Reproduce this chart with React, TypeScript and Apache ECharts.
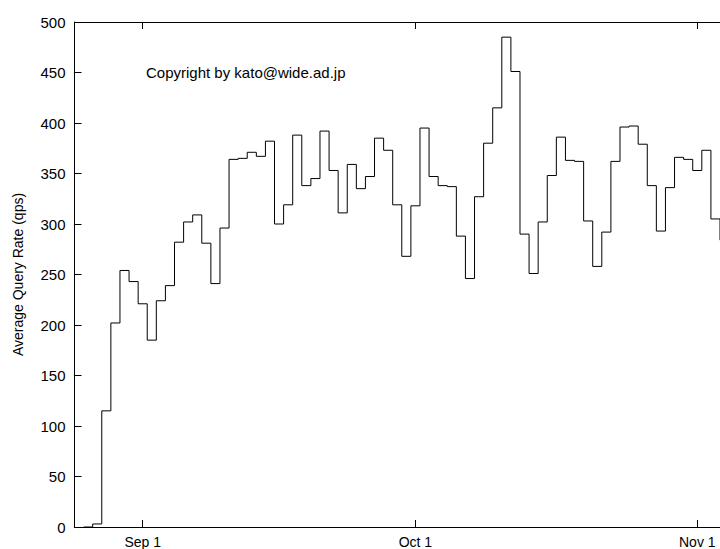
import React, { useEffect, useRef } from "react";
import * as echarts from "echarts";

// Day offsets relative to Sep 1 (each sample holds for one day, gnuplot "steps")
const dayOffsets: number[] = [
  -6.5, -5.5, -4.5, -3.5, -2.5, -1.5, -0.5, 0.5, 1.5, 2.5,
  3.5, 4.5, 5.5, 6.5, 7.5, 8.5, 9.5, 10.5, 11.5, 12.5,
  13.5, 14.5, 15.5, 16.5, 17.5, 18.5, 19.5, 20.5, 21.5, 22.5,
  23.5, 24.5, 25.5, 26.5, 27.5, 28.5, 29.5, 30.5, 31.5, 32.5,
  33.5, 34.5, 35.5, 36.5, 37.5, 38.5, 39.5, 40.5, 41.5, 42.5,
  43.5, 44.5, 45.5, 46.5, 47.5, 48.5, 49.5, 50.5, 51.5, 52.5,
  53.5, 54.5, 55.5, 56.5, 57.5, 58.5, 59.5, 60.5, 61.5, 62.5,
  63.5,
];

// Average query rate (qps)
const queryRates: number[] = [
  0, 3, 115, 202, 254, 243, 221, 185, 224, 239,
  282, 302, 309, 281, 241, 296, 364, 365, 371, 367,
  382, 300, 319, 388, 338, 345, 392, 353, 311, 359,
  335, 347, 385, 373, 319, 268, 318, 395, 347, 338,
  337, 288, 246, 327, 380, 415, 485, 451, 290, 251,
  302, 348, 386, 363, 362, 303, 258, 292, 362, 396,
  397, 379, 338, 293, 336, 366, 364, 353, 373, 305,
  284,
];

// X tick positions (days from Sep 1) and their labels
const xTickValues: number[] = [0, 30, 61];
const xTickLabels: string[] = ["Sep 1", "Oct 1", "Nov 1"];

const yLabel = "Average Query Rate (qps)";
const copyright = "Copyright by kato@wide.ad.jp";

const FONT = '"Liberation Sans", Arial, Helvetica, sans-serif';

export default function App() {
  const ref = useRef<HTMLDivElement>(null);

  useEffect(() => {
    if (!ref.current) return;
    const chart = echarts.init(ref.current, undefined, { renderer: "svg" });
    const data = dayOffsets.map((d, i) => [d, queryRates[i]]);
    const labelFor = (v: number) => {
      const idx = xTickValues.indexOf(Math.round(v));
      return idx >= 0 ? xTickLabels[idx] : "";
    };
    chart.setOption({
      animation: false,
      backgroundColor: "#ffffff",
      textStyle: { fontFamily: FONT },
      grid: { left: 74.5, right: 0, top: 22, bottom: 20, containLabel: false },
      xAxis: [
        {
          type: "value",
          position: "bottom",
          min: -7.5,
          max: 63.5,
          axisLine: { show: true, onZero: false, lineStyle: { color: "#000", width: 1 } },
          axisTick: {
            show: true,
            inside: true,
            length: 7,
            customValues: xTickValues,
            lineStyle: { color: "#000" },
          },
          axisLabel: {
            show: true,
            customValues: xTickValues,
            formatter: (v: number) => labelFor(v),
            color: "#000",
            fontSize: 14,
            fontFamily: FONT,
            margin: 8,
          },
          splitLine: { show: false },
        },
        {
          type: "value",
          position: "top",
          min: -7.5,
          max: 63.5,
          axisLine: { show: true, onZero: false, lineStyle: { color: "#000", width: 1 } },
          axisTick: {
            show: true,
            inside: true,
            length: 7,
            customValues: xTickValues,
            lineStyle: { color: "#000" },
          },
          axisLabel: { show: false },
          splitLine: { show: false },
        },
      ],
      yAxis: {
        type: "value",
        position: "left",
        min: 0,
        max: 500,
        interval: 50,
        name: yLabel,
        nameLocation: "middle",
        nameRotate: 90,
        nameGap: 50,
        nameTextStyle: { color: "#000", fontSize: 14, fontFamily: FONT },
        axisLine: { show: true, onZero: false, lineStyle: { color: "#000", width: 1 } },
        axisTick: { show: true, inside: true, length: 7, lineStyle: { color: "#000" } },
        axisLabel: { color: "#000", fontSize: 15, fontFamily: FONT, margin: 9 },
        splitLine: { show: false },
      },
      graphic: [
        {
          type: "text",
          x: 146,
          y: 72,
          style: {
            text: copyright,
            fill: "#000",
            font: `15px ${FONT}`,
            textVerticalAlign: "middle",
            verticalAlign: "middle",
          },
        },
      ],
      series: [
        {
          type: "line",
          step: "end",
          data,
          showSymbol: false,
          symbol: "none",
          lineStyle: { color: "#000", width: 1 },
          xAxisIndex: 0,
        },
      ],
    });
    return () => chart.dispose();
  }, []);

  return (
    <div
      ref={ref}
      style={{ position: "absolute", left: 0, top: 0, width: 720, height: 549 }}
    />
  );
}
